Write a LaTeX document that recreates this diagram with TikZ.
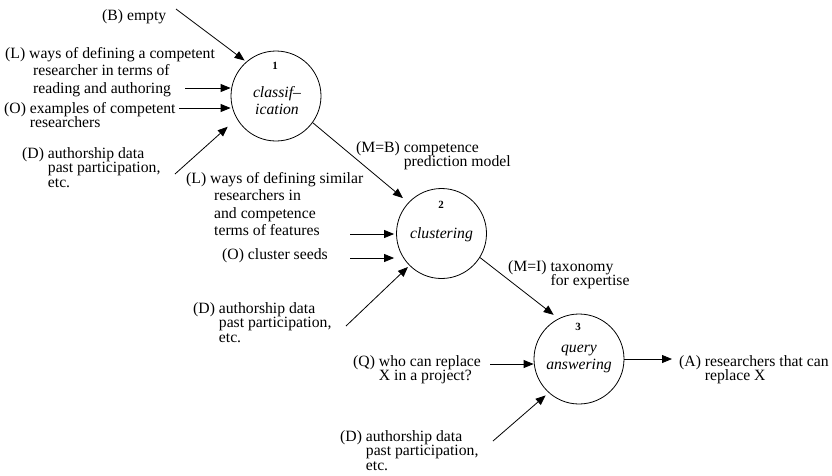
\documentclass[tikz,border=0pt]{standalone}
\usepackage{fontspec}
\setmainfont{Liberation Serif}
\usetikzlibrary{arrows.meta}
\tikzset{
	proc/.style={draw, circle, minimum size=90pt, inner sep=0pt, line width=0.8pt},
	procnum/.style={anchor=base, inner sep=0pt, font=\fontsize{11}{12}\selectfont\bfseries},
	proctext/.style={anchor=base, inner sep=0pt, font=\fontsize{15.7}{17}\selectfont\itshape},
	flowlabel/.style={anchor=base west, inner sep=0pt, font=\fontsize{15.7}{14.5}\selectfont},
	flowlabelwide/.style={flowlabel, font=\fontsize{15.7}{17.6}\selectfont},
	flow/.style={line width=0.8pt, -{Triangle[length=10pt,width=8pt]}}
}
\def\hangtext#1#2{#1\ \vtop{\halign{##\hfil\cr#2\crcr}}}
\def\midtext#1{\vtop{\halign{\hfil##\hfil\cr#1\crcr}}}

\begin{document}
\begin{tikzpicture}[x=1pt, y=-1pt]
	%%%%% START %%%%%
	\useasboundingbox (0,0) rectangle (832,475);
	
	\node[proc] (c1) at (276,96) {};
	\node[procnum] (c1num) at (275,69) {1};
	\node[proctext] (c1text) at (277,97) {\midtext{classif--\cr ication}};
	
	\node[proc] (c2) at (441.5,233.5) {};
	\node[procnum] (c2num) at (441,208) {2};
	\node[proctext] (c2text) at (441.5,238) {clustering};
	
	\node[proc] (c3) at (579,359) {};
	\node[procnum] (c3num) at (578,330.5) {3};
	\node[proctext] (c3text) at (579,352) {\midtext{query\cr answering}};
	
	\node[flowlabel] (b1) at (102,20) {(B) empty};
	\node[flowlabelwide] (l1) at (5,58) {\hangtext{(L)}{ways of defining a competent\cr \hspace{4pt}researcher in terms of\cr \hspace{4pt}reading and authoring}};
	\node[flowlabel] (o1) at (4,113) {\hangtext{(O)}{examples of competent\cr researchers}};
	\node[flowlabel] (d1) at (22,158) {\hangtext{(D)}{authorship data\cr past participation,\cr etc.}};
	
	\node[flowlabel] (mb) at (356,152) {\hangtext{(M=B)}{competence\cr prediction model}};
	\node[flowlabelwide] (l2) at (186,183) {\hangtext{(L)}{ways of defining similar\cr \hspace{4pt}researchers in\cr \hspace{4pt}and competence\cr \hspace{4pt}terms of features}};
	\node[flowlabel] (o2) at (222,259) {(O) cluster seeds};
	\node[flowlabel] (d2) at (193,313) {\hangtext{(D)}{authorship data\cr past participation,\cr etc.}};
	
	\node[flowlabel] (mi) at (508,271) {\hangtext{(M=I)}{taxonomy\cr for expertise}};
	\node[flowlabel] (q3) at (353,366) {\hangtext{(Q)}{who can replace\cr X in a project?}};
	\node[flowlabel] (d3) at (340,441) {\hangtext{(D)}{authorship data\cr past participation,\cr etc.}};
	\node[flowlabel] (a3) at (679,366) {\hangtext{(A)}{researchers that can\cr replace X}};
	
	\coordinate (b1t) at (176,9);
	\coordinate (l1t) at (185,88);
	\coordinate (o1t) at (179,108);
	\coordinate (d1t) at (175,174);
	\coordinate (l2t) at (350,234);
	\coordinate (o2t) at (350,258);
	\coordinate (d2t) at (346,326);
	\coordinate (q3t) at (490,364);
	\coordinate (d3t) at (493,441);
	\coordinate (a3h) at (672,359);
	
	\draw[flow, shorten >=2pt] (b1t) -- (c1.131);
	\draw[flow] (l1t) -- (l1t -| c1.west);
	\draw[flow] (o1t) -- (o1t -| c1.west);
	\draw[flow, shorten >=12pt] (d1t) -- (c1.210);
	
	\draw[flow, shorten >=7pt] (c1.-36) -- (c2.137);
	\draw[flow, shorten >=2pt] (l2t) -- (l2t -| c2.west);
	\draw[flow, shorten >=2pt] (o2t) -- (o2t -| c2.west);
	\draw[flow, shorten >=2pt] (d2t) -- (c2.225);
	
	\draw[flow, shorten >=6pt] (c2.-32) -- (c3.117);
	\draw[flow] (q3t) -- (q3t -| c3.west);
	\draw[flow, shorten >=4pt] (d3t) -- (c3.228);
	\draw[flow] (c3.east) -- (a3h);
	
	%%%%% END %%%%%
\end{tikzpicture}
\end{document}
